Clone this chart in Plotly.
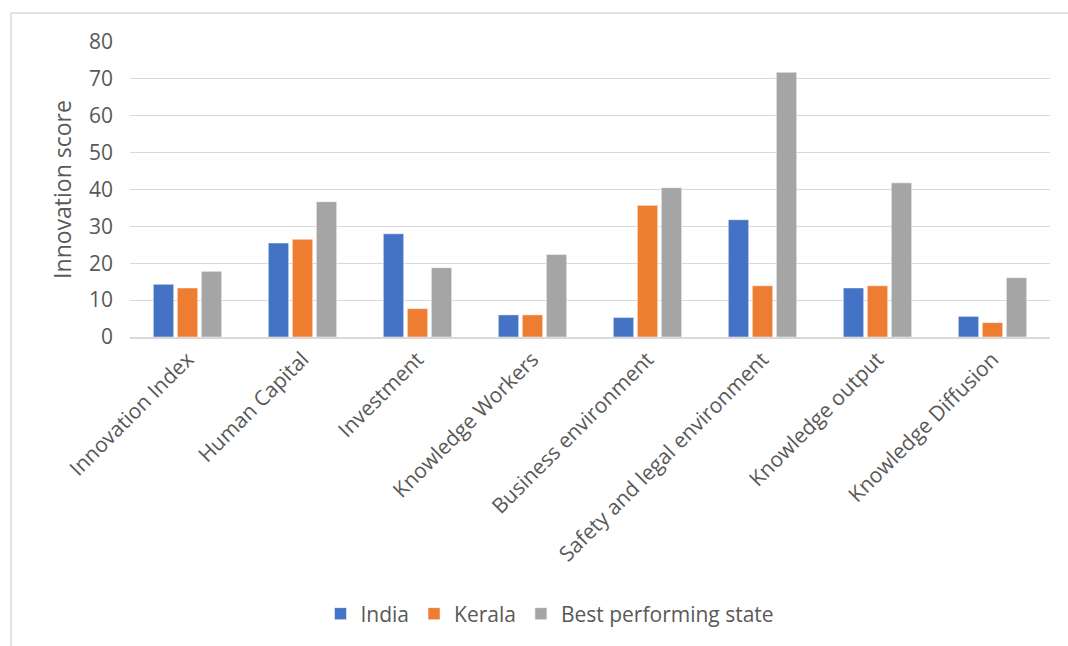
import plotly.graph_objects as go

categories = ["Innovation Index", "Human Capital", "Investment", "Knowledge Workers",
              "Business environment", "Safety and legal environment",
              "Knowledge output", "Knowledge Diffusion"]
india = [14.3, 25.5, 28.0, 6.0, 5.3, 31.8, 13.3, 5.6]
kerala = [13.3, 26.5, 7.7, 6.0, 35.7, 13.9, 13.9, 3.9]
best = [17.8, 36.7, 18.8, 22.4, 40.5, 71.8, 41.8, 16.1]
y_ticks = [0, 10, 20, 30, 40, 50, 60, 70, 80]

FONT = "'Open Sans', sans-serif"
GRAY = "#595959"

fig = go.Figure()
for name, vals, col in [("India", india, "#4472C4"),
                        ("Kerala", kerala, "#ED7D31"),
                        ("Best performing state", best, "#A5A5A5")]:
    fig.add_trace(go.Bar(x=categories, y=vals, name=name,
                         marker=dict(color=col, line=dict(color="white", width=0.5))))

fig.update_layout(
    width=1068, height=646,
    margin=dict(l=130, r=18, t=42, b=309),
    plot_bgcolor="white", paper_bgcolor="white",
    barmode="group", bargap=0.374, bargroupgap=0.15,
    font=dict(family=FONT, color=GRAY, size=18),
    legend=dict(orientation="h", x=0.4565, xanchor="center", y=-0.939, yanchor="middle",
                font=dict(size=21, color=GRAY), itemwidth=30, traceorder="normal"),
    xaxis=dict(tickangle=-45, showgrid=False, showline=True, linecolor="#d9d9d9",
               linewidth=1.5, ticks="", tickfont=dict(size=21, color=GRAY)),
    yaxis=dict(range=[0, 80], tickvals=y_ticks, showgrid=True, gridcolor="#d9d9d9",
               gridwidth=1, zeroline=False, ticks="", ticklabelstandoff=16,
               tickfont=dict(size=21, color=GRAY),
               title=dict(text="Innovation score", font=dict(size=23, color=GRAY), standoff=10)),
    shapes=[dict(type="rect", xref="paper", yref="paper", x0=-0.1293, x1=1.2,
                 y0=-1.3, y1=1.0983, line=dict(color="#d9d9d9", width=1.5),
                 fillcolor="rgba(0,0,0,0)", layer="below")],
)

fig.write_html("out.html")
